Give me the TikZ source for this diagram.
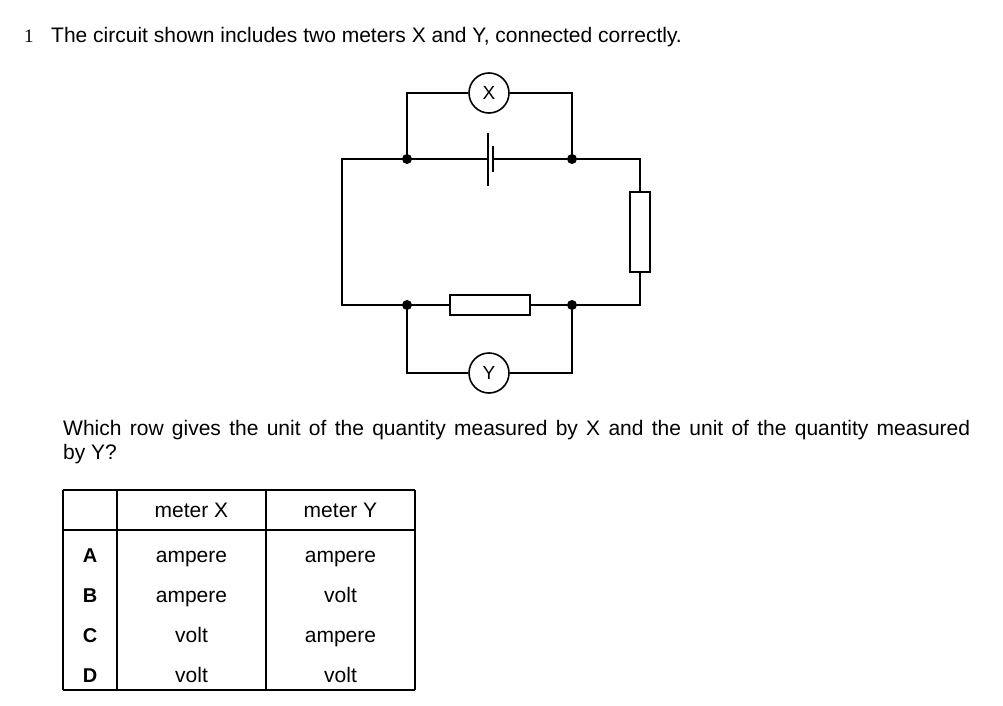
\documentclass[tikz,border=0pt]{standalone}
\usepackage{fontspec}
\setmainfont{Liberation Sans}
\newfontfamily\serif{Liberation Serif}
\begin{document}
\begin{tikzpicture}[x=1pt,y=-1pt,
  wire/.style={line width=2.2pt},
  dot/.style={circle,fill=black,inner sep=0pt,minimum size=10pt},
  meter/.style={circle,draw,line width=1.6pt,minimum size=40pt,inner sep=0pt,font=\fontsize{19}{19}\selectfont},
  res/.style={draw,line width=2.2pt,fill=white,inner sep=0pt},
  txt/.style={font=\fontsize{21}{24}\selectfont,inner sep=0pt},
  cell/.style={font=\fontsize{21}{24}\selectfont,inner sep=0pt,anchor=base}]
\useasboundingbox (0,0) rectangle (1003,706);
\node[font=\serif\fontsize{19}{19}\selectfont,anchor=base west,inner sep=0pt] (num) at (24,43) {1};
\node[txt,anchor=base west] (q1) at (51,43) {The circuit shown includes two meters X and Y, connected correctly.};
% circuit
\coordinate (jtl) at (407,159); \coordinate (jtr) at (572,159);
\coordinate (jbl) at (407,305); \coordinate (jbr) at (572,305);
\coordinate (cl) at (342,159); \coordinate (cbl) at (342,305);
\coordinate (cr) at (640,159); \coordinate (cbr) at (640,305);
\coordinate (bl) at (488,159); \coordinate (bs) at (493,159);
\node[meter] (X) at (489,93) {X};
\node[meter] (Y) at (489,373) {Y};
\draw[wire] (jtl) |- (X.west); \draw[wire] (X.east) -| (jtr);
\draw[wire] (jbl) |- (Y.west); \draw[wire] (Y.east) -| (jbr);
\draw[wire] (bl) -- (jtl) -- (cl) -- (cbl) -- (cbr) -- (cr) -- (bs);
\draw[wire] (488,133) -- (488,186);
\draw[wire] (493,146) -- (493,172);
\node[res,minimum width=20pt,minimum height=80pt] (R1) at (640,232) {};
\node[res,minimum width=80pt,minimum height=20pt] (R2) at (490,305) {};
\foreach \p in {jtl,jtr,jbl,jbr} \node[dot] at (\p) {};
% question
\node[txt,anchor=north west,text width=907pt,align=justify] (q2) at (63,420) {Which row gives the unit of the quantity measured by X and the unit of the quantity measured\linebreak by Y?};
% table
\draw[line width=1.3pt] (63,490) -- (415,490) (63,530) -- (415,530) (63,690) -- (415,690);
\draw[line width=1.3pt] (63,490) -- (63,690) (117,490) -- (117,690) (266,490) -- (266,690) (415,490) -- (415,690);
\node[cell] (h1) at (191.5,517) {meter X};
\node[cell] (h2) at (340.5,517) {meter Y};
\foreach \l/\a/\b [count=\i] in {A/ampere/ampere,B/ampere/volt,C/volt/ampere,D/volt/volt}{
  \node[cell,font=\bfseries\fontsize{20}{24}\selectfont] (r\i) at (90,522+40*\i) {\l};
  \node[cell] (x\i) at (191.5,522+40*\i) {\a};
  \node[cell] (y\i) at (340.5,522+40*\i) {\b};
}
\end{tikzpicture}
\end{document}
